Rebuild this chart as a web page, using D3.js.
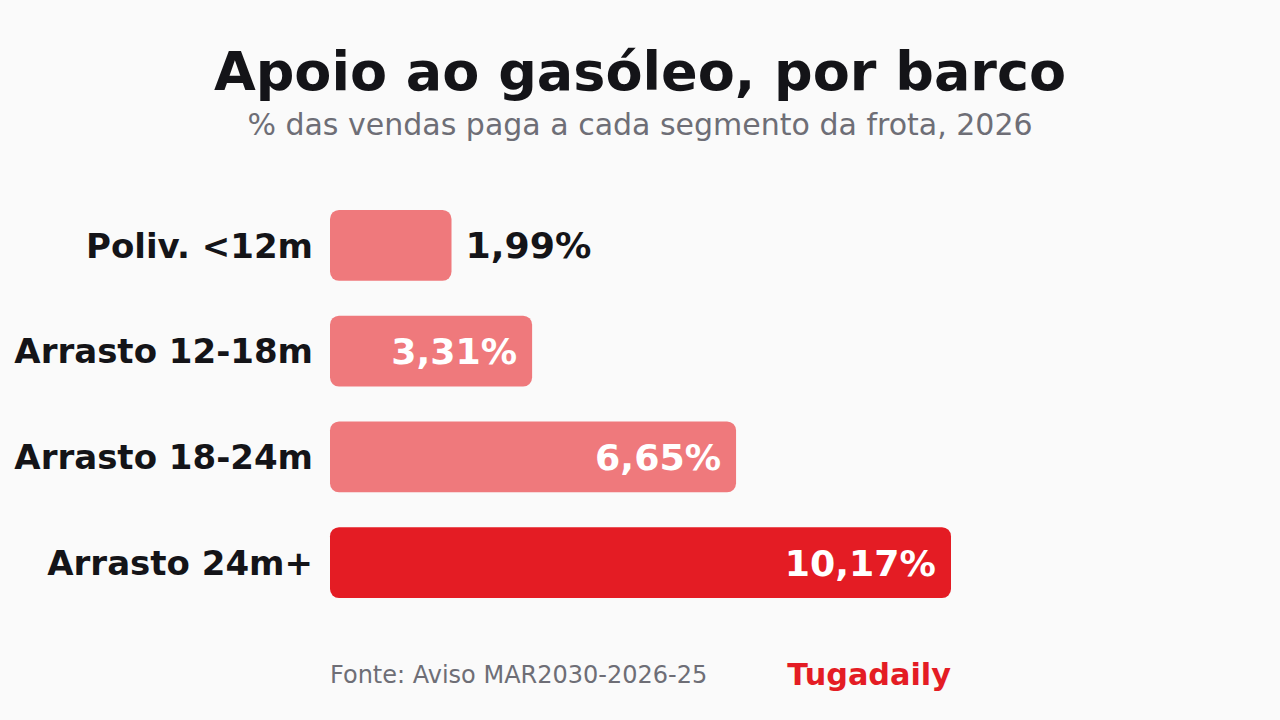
<!DOCTYPE html>
<html>
<head>
<meta charset="utf-8">
<script src="https://cdn.jsdelivr.net/npm/d3@7"></script>
<style>
  body { margin: 0; background: #fafafa; }
  svg { display: block; font-family: "DejaVu Sans", sans-serif; }
</style>
</head>
<body>
<div id="chart"></div>
<script>
// Data
var segments = ["Poliv. <12m", "Arrasto 12-18m", "Arrasto 18-24m", "Arrasto 24m+"];
var shares = [1.99, 3.31, 6.65, 10.17];
var labels = ["1,99%", "3,31%", "6,65%", "10,17%"];
var highlight = [false, false, false, true];

var svgWidth = 1280;
var svgHeight = 720;

var margin = { top: 192, right: 329, bottom: 104, left: 330 };

var svg = d3.select("#chart")
  .append("svg")
  .attr("width", svgWidth)
  .attr("height", svgHeight);

svg.append("rect")
  .attr("width", svgWidth)
  .attr("height", svgHeight)
  .attr("fill", "#fafafa");

// Titles
svg.append("text")
  .attr("x", svgWidth / 2)
  .attr("y", 90)
  .attr("text-anchor", "middle")
  .attr("font-size", 54)
  .attr("font-weight", "bold")
  .attr("fill", "#141418")
  .text("Apoio ao gasóleo, por barco");

svg.append("text")
  .attr("x", svgWidth / 2)
  .attr("y", 135)
  .attr("text-anchor", "middle")
  .attr("font-size", 30)
  .attr("fill", "#6e6e76")
  .text("% das vendas paga a cada segmento da frota, 2026");

// Scales
var xScale = d3.scaleLinear()
  .domain([0, d3.max(shares)])
  .range([margin.left, svgWidth - margin.right]);

var yScale = d3.scaleBand()
  .domain(segments)
  .range([margin.top, svgHeight - margin.bottom])
  .paddingInner(0.33)
  .paddingOuter(0.17);

var rows = segments.map(function(s, i) {
  return { name: s, value: shares[i], label: labels[i], hi: highlight[i] };
});

var chartGroup = svg.append("g");

// Bars
chartGroup.selectAll("rect.bar")
  .data(rows)
  .enter()
  .append("rect")
  .attr("class", "bar")
  .attr("x", xScale(0))
  .attr("y", d => yScale(d.name))
  .attr("width", d => xScale(d.value) - xScale(0))
  .attr("height", yScale.bandwidth())
  .attr("rx", 9)
  .attr("fill", d => d.hi ? "#e41c24" : "#ef797c");

// Category labels
chartGroup.selectAll("text.cat")
  .data(rows)
  .enter()
  .append("text")
  .attr("class", "cat")
  .attr("x", xScale(0) - 17)
  .attr("y", d => yScale(d.name) + yScale.bandwidth() / 2)
  .attr("dy", "0.36em")
  .attr("text-anchor", "end")
  .attr("font-size", 34)
  .attr("font-weight", "bold")
  .attr("fill", "#141418")
  .text(d => d.name);

// Value labels: inside if the bar is wide enough, else outside
chartGroup.selectAll("text.val")
  .data(rows)
  .enter()
  .append("text")
  .attr("class", "val")
  .attr("x", d => d.value > 3 ? xScale(d.value) - 15 : xScale(d.value) + 14)
  .attr("y", d => yScale(d.name) + yScale.bandwidth() / 2)
  .attr("dy", "0.36em")
  .attr("text-anchor", d => d.value > 3 ? "end" : "start")
  .attr("font-size", 36.3)
  .attr("font-weight", "bold")
  .attr("fill", d => d.value > 3 ? "#ffffff" : "#141418")
  .text(d => d.label);

// Footer
svg.append("text")
  .attr("x", xScale(0))
  .attr("y", 683)
  .attr("font-size", 24)
  .attr("fill", "#6e6e76")
  .text("Fonte: Aviso MAR2030-2026-25");

svg.append("text")
  .attr("x", xScale(d3.max(shares)))
  .attr("y", 685)
  .attr("text-anchor", "end")
  .attr("font-size", 30.3)
  .attr("font-weight", "bold")
  .attr("fill", "#e41c24")
  .text("Tugadaily");
</script>
</body>
</html>
